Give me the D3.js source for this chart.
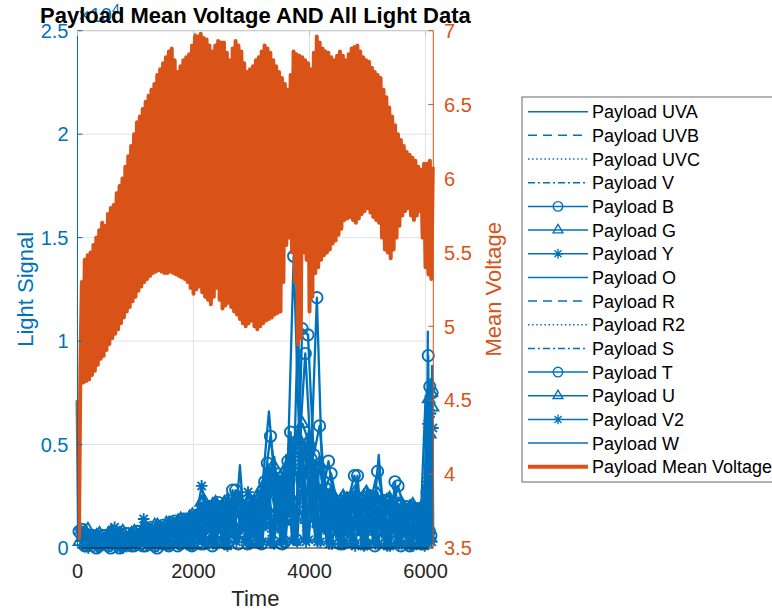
<!DOCTYPE html>
<html><head><meta charset="utf-8">
<script src="https://cdn.jsdelivr.net/npm/d3@7"></script>
<style>
body{margin:0;background:#fff}
svg{display:block}
text{font-family:"Liberation Sans",Arial,Helvetica,sans-serif}
</style>
</head><body>
<svg id="c" width="772" height="611"></svg>
<script>
// ---------------- DATA ----------------
// light channels: base sample times (s) and each channel's sampling delay (s)
const lightTime = d3.range(0, 6001, 100).concat([6020, 6040]);
const sampleDelay = [0,7,13,20,27,33,40,47,53,60,67,73,80,87,93];
// voltage sample times (s)
const voltTime = d3.range(0, 6126, 25);

// light signals, in hundreds of counts (axis shows x10^4)
const UVA = [9,1,6,0,6,1,7,1,7,2, 8,1,10,2,11,1,13,2,14,2, 16,2,20,3,20,2,21,3,40,2, 22,3,34,66,32,3,45,4,109,3, 45,3,29,2,22,2,24,3,24,2, 25,2,23,2,22,1,20,2,19,2, 72,5,105];
const UVB = [4,8,3,7,3,7,4,7,3,8, 4,9,5,11,5,12,6,14,7,16, 8,22,10,21,10,23,10,24,10,23, 11,28,17,40,16,38,22,52,26,52, 22,40,14,27,11,25,12,27,12,27, 12,26,11,24,11,22,10,21,9,21, 3,68,10];
const UVC = [6,0,4,1,4,0,5,1,5,0, 5,1,7,0,7,1,8,1,10,1, 11,2,13,1,13,2,14,2,13,1, 15,2,23,2,22,3,30,2,35,3, 30,2,19,2,15,1,16,2,16,1, 17,1,16,2,14,1,13,1,13,1, 50,4,60];
const V   = [5,8,4,6,4,7,4,7,4,7, 5,9,6,10,6,11,7,13,8,14, 10,20,12,20,12,21,13,21,12,21, 14,26,20,36,19,35,27,47,31,47, 27,36,17,24,14,22,15,24,15,24, 15,23,14,21,13,20,12,19,11,19, 5,60,2];
const B   = [8,1,6,0,6,1,7,0,7,1, 8,1,9,1,10,2,12,1,14,2, 15,2,19,1,22,3,20,28,19,2, 21,3,32,54,31,2,42,141,49,94, 43,121,27,42,21,2,23,3,35,2, 24,1,22,2,20,30,19,1,18,2, 27,93,8];
const G   = [3,8,2,6,2,7,2,7,2,7, 3,9,3,11,4,12,4,13,5,15, 5,22,7,21,7,22,7,23,7,22, 8,27,11,38,11,36,15,50,52,50, 15,38,10,25,8,23,8,25,8,25, 8,24,8,23,7,21,7,20,6,20, 4,72,55];
const Y   = [7,1,5,0,5,1,10,0,6,1, 7,14,8,1,9,1,11,2,12,1, 14,30,16,2,17,2,17,3,16,27, 19,2,28,3,27,3,38,4,44,3, 38,3,24,2,19,2,20,2,20,1, 21,2,20,1,18,2,17,1,16,2, 60,5,65];
const O   = [10,0,7,1,7,0,8,1,8,0, 9,1,11,1,12,2,14,1,16,2, 18,1,22,2,22,3,23,2,22,3, 25,2,38,3,36,4,50,3,58,4, 50,3,32,2,25,3,27,2,27,3, 28,2,26,1,24,2,22,1,21,2, 80,2,82];
const R   = [2,6,1,5,1,6,2,6,2,6, 2,7,2,8,2,9,3,11,3,12, 4,17,4,16,4,17,5,18,4,17, 5,21,8,29,7,28,10,39,12,39, 10,29,6,20,5,18,5,20,5,20, 6,19,5,18,5,16,4,15,4,15, 3,55,4];
const R2  = [5,1,4,0,3,1,4,0,4,1, 5,0,6,1,6,0,7,1,8,1, 9,1,11,2,11,1,12,2,11,1, 12,2,19,2,18,3,25,2,29,3, 25,2,16,1,12,2,13,1,13,2, 14,1,13,2,12,1,11,2,10,1, 40,3,55];
const S   = [6,9,5,7,5,8,5,8,5,8, 6,10,7,12,8,13,9,15,10,17, 12,24,14,23,14,24,15,25,14,24, 16,30,25,42,23,40,33,55,38,55, 33,42,21,28,16,26,18,28,18,28, 18,27,17,25,16,23,14,22,14,22, 2,60,42];
const T   = [9,1,6,1,6,0,7,1,7,1, 8,1,10,0,11,1,13,2,14,1, 16,2,20,3,20,2,28,2,20,3, 22,2,41,3,32,3,56,4,106,103, 45,59,29,36,22,2,24,35,24,2, 25,37,23,2,32,1,20,2,19,2, 78,6,75];
const U   = [5,9,4,7,4,8,4,8,4,8, 5,10,6,11,6,12,7,14,8,16, 9,23,11,22,11,23,12,24,11,23, 13,29,19,40,18,38,25,52,60,52, 25,40,16,27,13,25,14,27,14,27, 14,26,13,24,12,22,11,21,11,21, 5,75,68];
const V2  = [8,0,6,1,5,1,6,0,6,1, 7,1,9,1,10,1,11,2,13,1, 14,2,18,2,18,1,18,25,18,2, 20,3,30,2,29,3,40,3,46,4, 40,3,26,2,20,2,22,1,22,2, 22,2,21,1,19,2,18,1,17,1, 65,3,58];
const W   = [4,9,3,7,3,8,3,8,3,8, 4,10,4,12,5,13,6,15,6,17, 7,25,9,24,9,25,9,26,9,25, 10,31,15,44,14,42,20,58,23,58, 20,44,13,29,10,27,11,29,11,29, 11,45,10,26,10,24,9,23,8,23, 2,88,5];
const LIGHT_UNIT = 100;

// payload mean voltage (V)
const meanVoltage = [
 4.5,3.57,4.72,5.3, 4.62,5.45,4.63,5.48, 4.64,5.5,4.67,5.55, 4.7,5.6,4.74,5.65, 4.78,5.7,4.8,5.68,
 4.84,5.76,4.88,5.8, 4.92,5.82,4.95,5.9, 4.98,5.95,5.02,6.0, 5.06,6.08,5.1,6.15, 5.13,6.22,5.17,6.3,
 5.2,6.38,5.24,6.42, 5.27,6.47,5.3,6.52, 5.32,6.56,5.34,6.6, 5.36,6.64,5.37,6.7, 5.38,6.74,5.37,6.78,
 5.36,6.82,5.36,6.86, 5.37,6.88,5.36,6.8, 5.35,6.72,5.34,6.76, 5.33,6.8,5.32,6.82, 5.3,6.84,5.26,6.9,
 5.22,6.97,5.25,6.96, 5.27,6.98,5.23,6.95, 5.2,6.94,5.18,6.9, 5.15,6.86,5.2,6.9, 5.26,6.93,5.18,6.92,
 5.12,6.92,5.14,6.85, 5.16,6.8,5.13,6.88, 5.1,6.93,5.08,6.9, 5.05,6.86,5.02,6.78, 5.0,6.72,5.02,6.74,
 5.04,6.76,5.0,6.8, 4.98,6.82,5.0,6.86, 5.02,6.9,5.04,6.88, 5.05,6.85,5.06,6.8, 5.08,6.76,5.09,6.72,
 5.1,6.68,5.3,6.64, 5.55,6.6,5.6,6.7, 5.5,6.86,5.3,6.84, 4.88,6.83,4.92,6.82, 5.5,6.8,5.45,6.78,
 5.1,6.74,5.2,6.85, 5.36,6.96,5.4,6.92, 5.45,6.88,5.48,6.86, 5.5,6.85,5.52,6.82, 5.56,6.8,5.58,6.83,
 5.62,6.86,5.66,6.83, 5.72,6.8,5.73,6.84, 5.74,6.88,5.72,6.89, 5.7,6.9,5.73,6.86, 5.76,6.82,5.78,6.8,
 5.8,6.79,5.77,6.75, 5.74,6.72,5.72,6.7, 5.7,6.68,5.6,6.6, 5.52,6.55,5.5,6.48, 5.46,6.42,5.52,6.36,
 5.6,6.3,5.68,6.26, 5.75,6.22,5.78,6.18, 5.8,6.16,5.75,6.14, 5.72,6.12,5.75,6.08, 5.78,6.06,5.6,6.1,
 5.4,6.1,5.35,6.12, 5.32,6.08];

const seriesNames = ["Payload UVA","Payload UVB","Payload UVC","Payload V","Payload B","Payload G","Payload Y",
  "Payload O","Payload R","Payload R2","Payload S","Payload T","Payload U","Payload V2","Payload W"];
const seriesValues = [UVA,UVB,UVC,V,B,G,Y,O,R,R2,S,T,U,V2,W];
const voltName = "Payload Mean Voltage";

const xTicks = [0,2000,4000,6000];
const leftTicks = [0,5000,10000,15000,20000,25000];
const rightTicks = [3.5,4,4.5,5,5.5,6,6.5,7];
const xDomain = [0,6134];
const leftDomain = [0,25000];
const rightDomain = [3.5,7];

// ---------------- STYLES ----------------
const BLUE = "#0072BD", ORANGE = "#D95319", DARK = "#262626";
const lineStyles = ["solid","dash","dot","dashdot","solid","solid","solid","solid","dash","dot","dashdot","solid","solid","solid","solid"];
const markers    = [null,null,null,null,"o","^","*",null,null,null,null,"o","^","*",null];
const dashMap = {solid:null, dash:"7,3", dot:"2,2", dashdot:"7,2,2,2"};
const legDashMap = {solid:null, dash:"9,6", dot:"1.5,2.6", dashdot:"7,3,2,3"};

const svg = d3.select("#c");
const L = 77.5, Rx = 433.3, Tp = 30.7, Bt = 548;
const x = d3.scaleLinear().domain(xDomain).range([L,Rx]);
const yL = d3.scaleLinear().domain(leftDomain).range([Bt,Tp]);
const yR = d3.scaleLinear().domain(rightDomain).range([Bt,Tp]);

// grid
const grid = svg.append("g").attr("stroke","#dfe3e8").attr("stroke-width",1);
xTicks.forEach(t=>grid.append("line").attr("x1",x(t)).attr("x2",x(t)).attr("y1",Tp).attr("y2",Bt));
leftTicks.forEach(t=>grid.append("line").attr("x1",L).attr("x2",Rx).attr("y1",yL(t)).attr("y2",yL(t)));

function markerPath(m){
  if(m==="o") return d3.symbol(d3.symbolCircle, 100)();
  if(m==="^") return "M0,-6.6L5.8,3.3L-5.8,3.3Z";
  if(m==="*") return "M-5.8,0H5.8M0,-5.8V5.8M-4.1,-4.1L4.1,4.1M-4.1,4.1L4.1,-4.1";
  return null;
}

// light series
const dataG = svg.append("g");
seriesValues.forEach((vals,si)=>{
  const pts = vals.map((v,i)=>[lightTime[i] + sampleDelay[si], v*LIGHT_UNIT]);
  const line = d3.line().x(d=>x(d[0])).y(d=>yL(d[1]));
  dataG.append("path").attr("d",line(pts)).attr("fill","none").attr("stroke",BLUE)
    .attr("stroke-width",2.3).attr("stroke-dasharray",dashMap[lineStyles[si]]).attr("stroke-linejoin","round");
});
seriesValues.forEach((vals,si)=>{
  const m = markers[si];
  if(!m) return;
  const pts = vals.map((v,i)=>[lightTime[i] + sampleDelay[si], v*LIGHT_UNIT]);
  dataG.append("g").selectAll("path").data(pts).join("path")
    .attr("d",markerPath(m)).attr("transform",d=>`translate(${x(d[0])},${yL(d[1])})`)
    .attr("fill","none").attr("stroke",BLUE).attr("stroke-width",1.9);
});

// voltage
const vPts = meanVoltage.map((v,i)=>[voltTime[i],v]);
svg.append("path").attr("d",d3.line().x(d=>x(d[0])).y(d=>yR(d[1]))(vPts))
  .attr("fill","none").attr("stroke",ORANGE).attr("stroke-width",4).attr("stroke-linejoin","round");

// axes lines
const ax = svg.append("g");
ax.append("line").attr("x1",L).attr("x2",Rx).attr("y1",Tp).attr("y2",Tp).attr("stroke","#c4c4c4");
ax.append("line").attr("x1",L).attr("x2",Rx).attr("y1",Bt).attr("y2",Bt).attr("stroke",DARK);
ax.append("line").attr("x1",L).attr("x2",L).attr("y1",Tp).attr("y2",Bt).attr("stroke",BLUE);
ax.append("line").attr("x1",Rx).attr("x2",Rx).attr("y1",Tp).attr("y2",Bt).attr("stroke",ORANGE);
leftTicks.forEach(t=>ax.append("line").attr("x1",L).attr("x2",L+5).attr("y1",yL(t)).attr("y2",yL(t)).attr("stroke",BLUE));
rightTicks.forEach(t=>ax.append("line").attr("x1",Rx-5).attr("x2",Rx).attr("y1",yR(t)).attr("y2",yR(t)).attr("stroke",ORANGE));
xTicks.forEach(t=>{
  ax.append("line").attr("x1",x(t)).attr("x2",x(t)).attr("y1",Tp).attr("y2",Tp+5).attr("stroke","#c4c4c4");
});

// tick labels
const fmtL = d=>String(d/10000);
leftTicks.forEach(t=>svg.append("text").attr("x",68.5).attr("y",yL(t)).attr("dy","0.36em")
  .attr("text-anchor","end").attr("font-size",20).attr("fill",BLUE).text(fmtL(t)));
rightTicks.forEach(t=>svg.append("text").attr("x",444).attr("y",yR(t)).attr("dy","0.36em")
  .attr("text-anchor","start").attr("font-size",20).attr("fill",ORANGE).text(String(t)));
xTicks.forEach(t=>svg.append("text").attr("x",x(t)).attr("y",578)
  .attr("text-anchor","middle").attr("font-size",20).attr("fill",DARK).text(String(t)));

// exponent
const ex = svg.append("text").attr("x",78).attr("y",22).attr("font-size",20).attr("fill",BLUE);
ex.append("tspan").text("\u00d710");
ex.append("tspan").attr("dy",-8).attr("font-size",14).text("4");

// axis labels
svg.append("text").attr("x",(L+Rx)/2).attr("y",606).attr("text-anchor","middle")
  .attr("font-size",22).attr("fill",DARK).text("Time");
svg.append("text").attr("transform",`translate(32.5,${(Tp+Bt)/2}) rotate(-90)`).attr("text-anchor","middle")
  .attr("font-size",22).attr("fill",BLUE).text("Light Signal");
svg.append("text").attr("transform",`translate(500.5,${(Tp+Bt)/2}) rotate(-90)`).attr("text-anchor","middle")
  .attr("font-size",22).attr("fill",ORANGE).text("Mean Voltage");

// title
svg.append("text").attr("x",(L+Rx)/2).attr("y",23).attr("text-anchor","middle")
  .attr("font-size",22).attr("font-weight","bold").attr("fill","#000")
  .text("Payload Mean Voltage AND All Light Data");

// legend
const lg = svg.append("g");
lg.append("rect").attr("x",522).attr("y",97).attr("width",300).attr("height",385)
  .attr("fill","#fff").attr("stroke","#666").attr("stroke-width",1);
const rowY = i=>111.7 + i*23.67;
seriesNames.forEach((n,i)=>{
  const yy = rowY(i);
  lg.append("line").attr("x1",528).attr("x2",588).attr("y1",yy).attr("y2",yy)
    .attr("stroke",BLUE).attr("stroke-width",1.5).attr("stroke-dasharray",legDashMap[lineStyles[i]]);
  if(markers[i]){
    lg.append("path").attr("d",markerPath(markers[i])).attr("transform",`translate(558,${yy}) scale(0.85)`)
      .attr("fill","none").attr("stroke",BLUE).attr("stroke-width",1.6);
  }
  lg.append("text").attr("x",592).attr("y",yy).attr("dy","0.36em").attr("font-size",18).attr("fill","#000").text(n);
});
{
  const yy = rowY(15);
  lg.append("line").attr("x1",528).attr("x2",588).attr("y1",yy).attr("y2",yy)
    .attr("stroke",ORANGE).attr("stroke-width",4);
  lg.append("text").attr("x",592).attr("y",yy).attr("dy","0.36em").attr("font-size",18).attr("fill","#000").text(voltName);
}
</script>
</body></html>
